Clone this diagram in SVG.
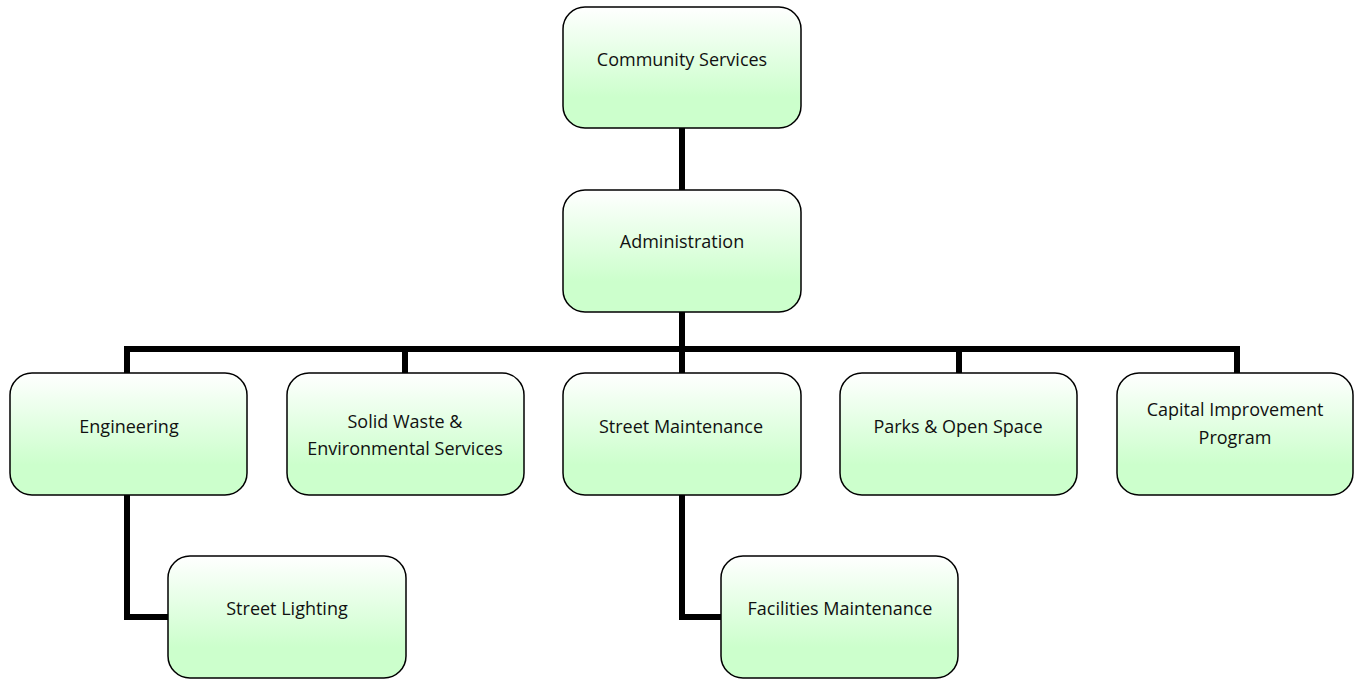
<svg xmlns="http://www.w3.org/2000/svg" width="1354" height="679" viewBox="0 0 1354 679">
<style>
.box{fill:url(#g);stroke:#000;stroke-width:1.5}
.t{font-family:"Open Sans","Liberation Sans",sans-serif;font-size:18px;fill:#111;text-anchor:middle}
.c{fill:none;stroke:#000;stroke-width:6}
</style>
<defs>
<linearGradient id="g" x1="0" y1="0" x2="0" y2="1">
<stop offset="0" stop-color="#ffffff"/>
<stop offset="0.75" stop-color="#ccffcc"/>
<stop offset="1" stop-color="#ccffcc"/>
</linearGradient>
</defs>
<g id="connectors">
<path class="c" d="M682,128V190"/>
<path class="c" d="M682,312V349"/>
<path class="c" d="M127,373V349H1237V373"/>
<path class="c" d="M405,349V373"/>
<path class="c" d="M682,349V373"/>
<path class="c" d="M959,349V373"/>
<path class="c" d="M127,495V617H168"/>
<path class="c" d="M682,495V617H721"/>
</g>
<g id="community-services"><rect class="box" x="563" y="7" width="238" height="121" rx="22"/><text class="t" x="682" y="66">Community Services</text></g>
<g id="administration"><rect class="box" x="563" y="190" width="238" height="122" rx="22"/><text class="t" x="682" y="248">Administration</text></g>
<g id="engineering"><rect class="box" x="10" y="373" width="237" height="122" rx="22"/><text class="t" x="129" y="433">Engineering</text></g>
<g id="solid-waste"><rect class="box" x="287" y="373" width="237" height="122" rx="22"/><text class="t" x="405" y="428">Solid Waste &amp;</text><text class="t" x="405" y="455">Environmental Services</text></g>
<g id="street-maintenance"><rect class="box" x="563" y="373" width="238" height="122" rx="22"/><text class="t" x="681" y="433">Street Maintenance</text></g>
<g id="parks"><rect class="box" x="840" y="373" width="237" height="122" rx="22"/><text class="t" x="958" y="433">Parks &amp; Open Space</text></g>
<g id="capital"><rect class="box" x="1117" y="373" width="236" height="122" rx="22"/><text class="t" x="1235" y="416">Capital Improvement</text><text class="t" x="1235" y="444">Program</text></g>
<g id="street-lighting"><rect class="box" x="168" y="556" width="238" height="122" rx="22"/><text class="t" x="287" y="615">Street Lighting</text></g>
<g id="facilities-maintenance"><rect class="box" x="721" y="556" width="237" height="122" rx="22"/><text class="t" x="840" y="615">Facilities Maintenance</text></g>
</svg>
